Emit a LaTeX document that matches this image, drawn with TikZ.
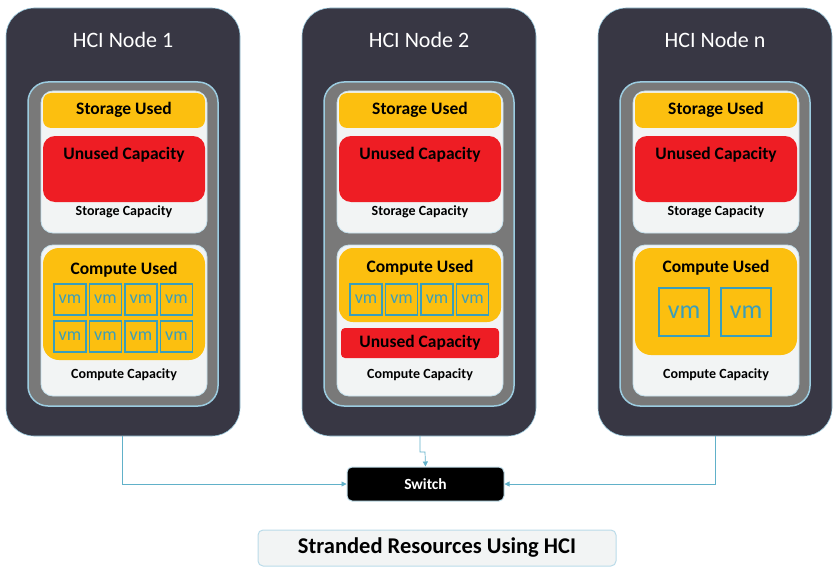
\documentclass[tikz,border=0pt]{standalone}
\usepackage{fontspec}
\setmainfont{Carlito}
\usetikzlibrary{arrows.meta}
\definecolor{dark}{HTML}{383744}
\definecolor{lblue}{HTML}{9CCCE0}
\definecolor{yel}{HTML}{FCBF0F}
\definecolor{red1}{HTML}{EE1D24}
\definecolor{vmc}{HTML}{3A9EBB}
\definecolor{wbox}{HTML}{F2F4F4}
\tikzset{
 outer/.style={fill=dark,draw=lblue,line width=0.6pt,rounded corners=28pt},
 panel/.style={fill=gray!95!black,draw=lblue,line width=1.5pt,rounded corners=20pt},
 wb/.style={fill=wbox,draw=lblue!60,line width=0.8pt,rounded corners=12pt},
 yb/.style={fill=yel,rounded corners=8pt},
 rb/.style={fill=red1,rounded corners=12pt},
 lab/.style={font=\bfseries\fontsize{17.5}{19}\selectfont},
 small/.style={font=\bfseries\fontsize{14}{16}\selectfont},
 vm/.style={draw=vmc,line width=1.2pt,text=vmc,minimum width=32pt,minimum height=31pt,inner sep=0pt,font=\fontsize{18}{20}\selectfont},
 bigvm/.style={draw=vmc,line width=1.2pt,text=vmc,minimum width=50pt,minimum height=48pt,inner sep=0pt,font=\fontsize{26}{28}\selectfont},
 conn/.style={draw=vmc!80,line width=0.7pt,-{Triangle[length=5pt,width=5pt]}},
}
\begin{document}
\begin{tikzpicture}[x=1pt,y=-1pt]
\useasboundingbox (0,0) rectangle (840,575);
\foreach \o/\n in {0/1,296/2,592/n}{
 \begin{scope}[xshift=\o pt]
 \draw[outer] (6,8) rectangle (240,436);
 \node[text=white,font=\fontsize{22}{24}\selectfont] (t\n) at (123,40) {HCI Node \n};
 \draw[panel] (28,82) rectangle (218,406);
 \draw[wb] (41,91) rectangle (207,233);
 \draw[wb] (41,245) rectangle (207,396);
 \fill[yb] (43,93) rectangle (205,128);
 \node[lab] (su\n) at (124,110) {Storage Used};
 \fill[rb] (43,136) rectangle (205,202);
 \node[lab] (uc\n) at (124,155) {Unused Capacity};
 \node[small] (sc\n) at (124,212) {Storage Capacity};
 \node[small] (cc\n) at (124,375) {Compute Capacity};
 \end{scope}}
% node 1 compute
\fill[yel,rounded corners=16pt] (43,248) rectangle (205,360);
\node[lab] (cu1) at (124,270) {Compute Used};
\foreach \i in {0,...,3}{\foreach \j in {0,1}{
 \node[vm] (vmA\i\j) at (70+35.5*\i,299.5+37*\j) {vm};}}
% node 2
\fill[yel,rounded corners=14pt] (339,248) rectangle (501,322);
\node[lab] (cu2) at (420,268) {Compute Used};
\foreach \i in {0,...,3}{\node[vm] (vmB\i) at (366+35.5*\i,299.5) {vm};}
\fill[red1,rounded corners=4pt] (341,328) rectangle (499,358);
\node[lab] (uc2b) at (420,343) {Unused Capacity};
% node n
\fill[yel,rounded corners=16pt] (635,248) rectangle (797,355);
\node[lab] (cu3) at (716,268) {Compute Used};
\node[bigvm] (vmC1) at (684,312) {vm};
\node[bigvm] (vmC2) at (746,312) {vm};
% switch
\node[fill=black,draw=lblue!60,line width=1pt,rounded corners=5pt,minimum width=157pt,minimum height=34pt,text=white,font=\bfseries\fontsize{15.5}{17}\selectfont] (sw) at (425.5,484) {Switch};
\coordinate (b1) at (122,436);
\coordinate (b2) at (420,436);
\coordinate (b3) at (715,436);
\draw[conn] (b1) |- (sw.west);
\draw[conn] (b3) |- (sw.east);
\draw[conn] (b2) -- (420,452) -- (425,452) -- (sw.north);
\node[fill=wbox,draw=lblue!70,line width=1pt,rounded corners=5pt,minimum width=358pt,minimum height=36pt,font=\bfseries\fontsize{22.5}{24}\selectfont] (title) at (437,548) {Stranded Resources Using HCI};
\end{tikzpicture}
\end{document}
